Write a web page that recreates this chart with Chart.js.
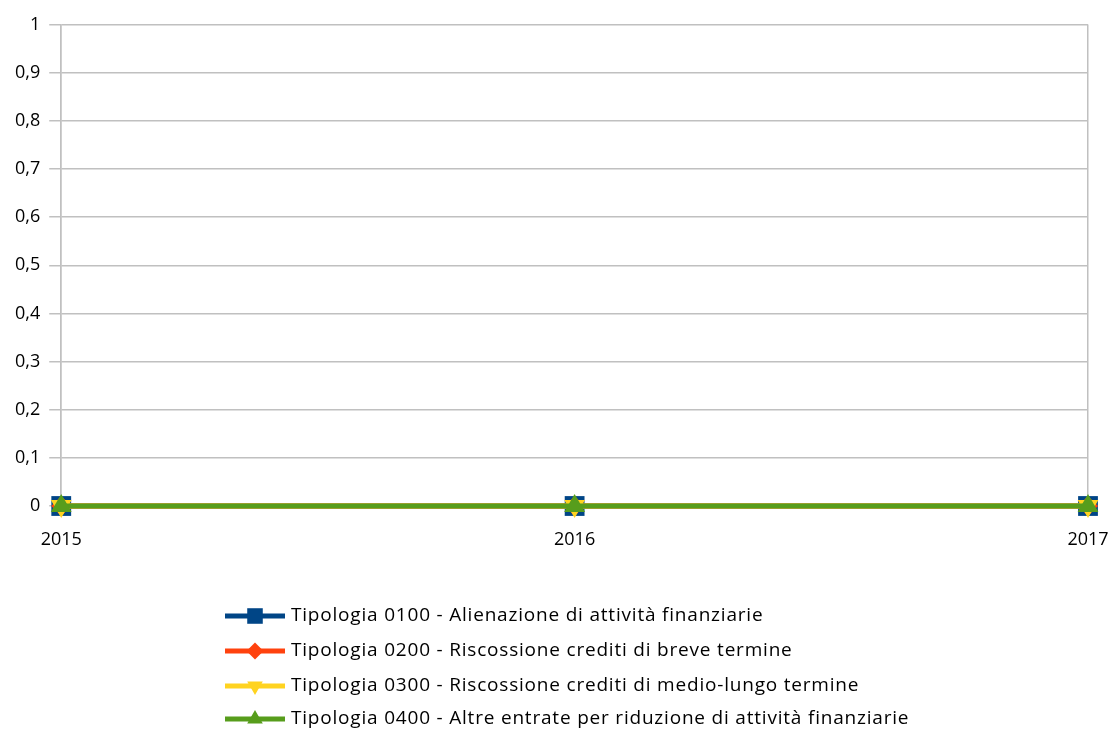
<!DOCTYPE html>
<html>
<head>
<meta charset="utf-8">
<script src="https://cdn.jsdelivr.net/npm/chart.js@4/dist/chart.umd.min.js"></script>
<style>
  html, body { margin: 0; padding: 0; background: #fff; }
  #wrap { width: 1112px; height: 729px; }
</style>
</head>
<body>
<div id="wrap"><canvas id="chart" width="1112" height="729"></canvas></div>
<script>
// data
const years = ["2015", "2016", "2017"];
const seriesNames = [
  "Tipologia 0100 - Alienazione di attività finanziarie",
  "Tipologia 0200 - Riscossione crediti di breve termine",
  "Tipologia 0300 - Riscossione crediti di medio-lungo termine",
  "Tipologia 0400 - Altre entrate per riduzione di attività finanziarie"
];
const tipologia0100 = [0, 0, 0];
const tipologia0200 = [0, 0, 0];
const tipologia0300 = [0, 0, 0];
const tipologia0400 = [0, 0, 0];
const yMin = 0, yMax = 1, yStep = 0.1;

const colors = ["#004586", "#ff420e", "#ffd320", "#579d1c"];
const markers = ["rect", "rectRot", "triangle", "triangle"];
const rotations = [0, 0, 180, 0];
const chartRadius = [14, 10, 12, 12];
const legendRadius = [11, 8.5, 9, 9];
const FONT = "'Open Sans', 'DejaVu Sans', sans-serif";

const values = [tipologia0100, tipologia0200, tipologia0300, tipologia0400];
const datasets = values.map((v, i) => ({
  label: seriesNames[i],
  data: v,
  borderColor: colors[i],
  backgroundColor: colors[i],
  borderWidth: 5,
  pointStyle: markers[i],
  pointRotation: rotations[i],
  pointRadius: chartRadius[i],
  pointHoverRadius: chartRadius[i],
  pointBorderWidth: 0,
  tension: 0,
  clip: false,
  order: 3 - i
}));

// legend drawn by hand: line + marker, rows left aligned
const lineLegend = {
  id: "lineLegend",
  afterDraw(chart) {
    const ctx = chart.ctx;
    const x0 = 225, x1 = 285, tx = 291;
    const rowY = [616, 651, 686, 719];
    ctx.save();
    chart.data.datasets.forEach((ds, i) => {
      const y = rowY[i];
      ctx.strokeStyle = ds.borderColor;
      ctx.lineWidth = 5;
      ctx.beginPath();
      ctx.moveTo(x0, y);
      ctx.lineTo(x1, y);
      ctx.stroke();
      ctx.fillStyle = ds.borderColor;
      Chart.helpers.drawPoint(ctx, {
        pointStyle: ds.pointStyle,
        rotation: ds.pointRotation,
        radius: legendRadius[i],
        borderWidth: 0
      }, (x0 + x1) / 2, y);
      ctx.fillStyle = "#000";
      ctx.font = "19px " + FONT;
      ctx.letterSpacing = "0.8px";
      ctx.textBaseline = "middle";
      ctx.textAlign = "left";
      ctx.fillText(ds.label, tx, y);
      ctx.letterSpacing = "0px";
    });
    ctx.restore();
  }
};

new Chart(document.getElementById("chart"), {
  type: "line",
  data: { labels: years, datasets: datasets },
  options: {
    responsive: false,
    animation: false,
    layout: { autoPadding: false, padding: { left: 6, right: 24, top: 24.5, bottom: 161.4 } },
    plugins: {
      legend: { display: false },
      tooltip: { enabled: false }
    },
    scales: {
      x: {
        offset: false,
        // the 2017 label may run into the right margin
        afterFit: (scale) => { scale.paddingRight = 0; },
        grid: {
          color: (c) => (c.index === 1 ? "rgba(0,0,0,0)" : "#c0c0c0"),
          lineWidth: 1.5,
          tickLength: 6,
          drawOnChartArea: true
        },
        border: { display: false },
        ticks: {
          color: "#000",
          font: { family: FONT, size: 18 },
          padding: 17,
          maxRotation: 0
        }
      },
      y: {
        min: yMin,
        max: yMax,
        grid: { color: "#c0c0c0", lineWidth: 1.5, tickLength: 12 },
        border: { color: "#c0c0c0", width: 1.5 },
        ticks: {
          stepSize: yStep,
          color: "#000",
          font: { family: FONT, size: 18 },
          padding: 9,
          callback: (v) => String(Math.round(v * 10) / 10).replace(".", ",")
        }
      }
    }
  },
  plugins: [lineLegend]
});
</script>
</body>
</html>
